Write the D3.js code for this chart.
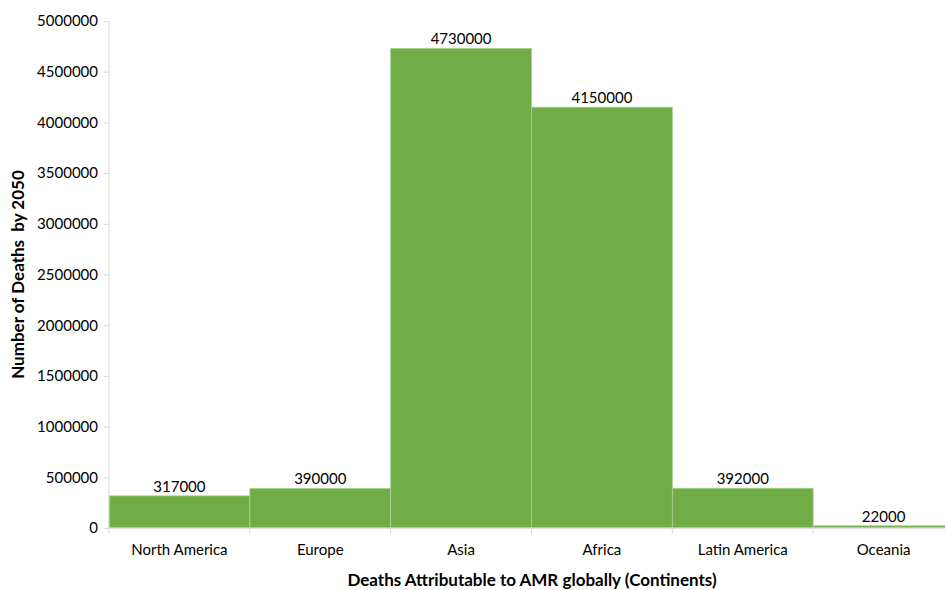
<!DOCTYPE html>
<html>
<head>
<meta charset="utf-8">
<script src="https://cdn.jsdelivr.net/npm/d3@7"></script>
<style>
  html, body { margin: 0; padding: 0; background: #fff; overflow: hidden; }
  text { font-family: Lato, "Open Sans", sans-serif; fill: #000; }
</style>
</head>
<body>
<svg id="chart" width="945" height="590"></svg>
<script>
// Projected deaths attributable to AMR by 2050, per continent
const continents = ["North America", "Europe", "Asia", "Africa", "Latin America", "Oceania"];
const deaths = [317000, 390000, 4730000, 4150000, 392000, 22000];
const yTicks = [0, 500000, 1000000, 1500000, 2000000, 2500000, 3000000, 3500000, 4000000, 4500000, 5000000];

const svg = d3.select("#chart");
const plotLeft = 109, plotRight = 954, plotTop = 21, plotBottom = 528;
const labelSize = 15, titleSize = 17;

const x = d3.scaleBand().domain(continents).range([plotLeft, plotRight]).padding(0);
const y = d3.scaleLinear().domain([0, 5000000]).range([plotBottom, plotTop]);

const axisColor = "#d9d9d9";

// Bars
svg.append("g").selectAll("rect")
  .data(continents)
  .join("rect")
  .attr("x", d => x(d))
  .attr("y", (d, i) => y(deaths[i]))
  .attr("width", x.bandwidth())
  .attr("height", (d, i) => plotBottom - y(deaths[i]))
  .attr("fill", "#70ad47")
  .attr("stroke", "#a9d08e")
  .attr("stroke-width", 0.8);

// Value labels
svg.append("g").selectAll("text")
  .data(continents)
  .join("text")
  .attr("x", d => x(d) + x.bandwidth() / 2)
  .attr("y", (d, i) => y(deaths[i]) - 4)
  .attr("text-anchor", "middle")
  .attr("font-size", labelSize)
  .text((d, i) => deaths[i]);

// Y axis
const yAxis = svg.append("g")
  .attr("transform", `translate(${plotLeft},0)`)
  .call(d3.axisLeft(y).tickValues(yTicks).tickFormat(d => String(d)).tickSize(5).tickPadding(6));
yAxis.selectAll("path, line").attr("stroke", axisColor);
yAxis.select(".domain").attr("d", `M0,${plotTop}V${plotBottom}`);
yAxis.selectAll("text").attr("font-size", labelSize).attr("font-family", "Lato, 'Open Sans', sans-serif").attr("fill", "#000");

// X axis with tick marks at category boundaries
const xAxis = svg.append("g").attr("transform", `translate(0,${plotBottom})`);
xAxis.append("line").attr("x1", plotLeft).attr("x2", plotRight).attr("stroke", axisColor);
const bounds = continents.map(d => x(d)).concat([x(continents[continents.length - 1]) + x.bandwidth()]);
xAxis.selectAll("line.tick").data(bounds).join("line")
  .attr("class", "tick")
  .attr("x1", d => d).attr("x2", d => d)
  .attr("y1", 0).attr("y2", 6)
  .attr("stroke", axisColor);
xAxis.selectAll("text").data(continents).join("text")
  .attr("x", d => x(d) + x.bandwidth() / 2)
  .attr("y", 27)
  .attr("text-anchor", "middle")
  .attr("font-size", labelSize)
  .text(d => d);

// Axis titles
svg.append("text")
  .attr("x", 532).attr("y", 586)
  .attr("text-anchor", "middle")
  .attr("font-size", titleSize).attr("font-weight", "bold")
  .text("Deaths Attributable to AMR globally (Continents)");

svg.append("text")
  .attr("transform", `translate(24,${(plotTop + plotBottom) / 2}) rotate(-90)`)
  .attr("text-anchor", "middle")
  .attr("font-size", titleSize).attr("font-weight", "bold")
  .attr("xml:space", "preserve")
  .text("Number of Deaths  by 2050");
</script>
</body>
</html>
